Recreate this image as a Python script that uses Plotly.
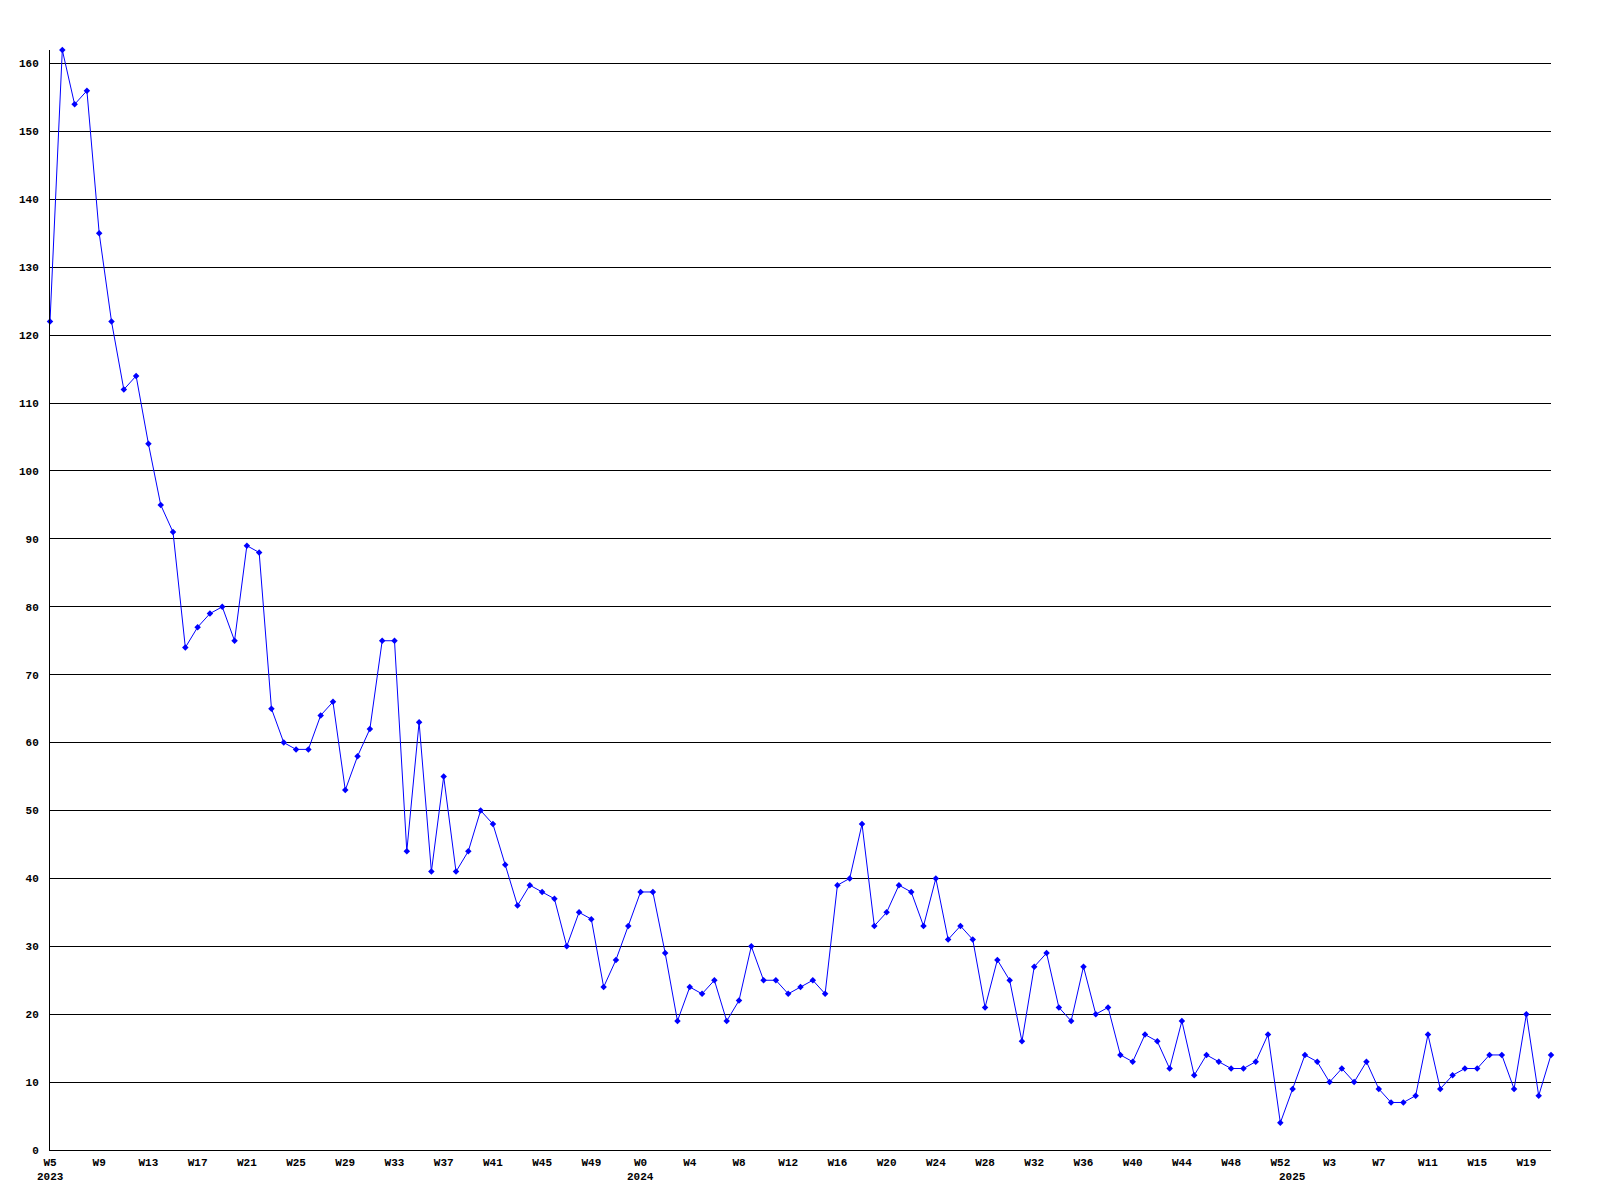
import plotly.graph_objects as go

# Weekly values (index 0 = 2023 W5 ... index 122 = 2025 W21)
values = [122, 162, 154, 156, 135, 122, 112, 114, 104, 95, 91, 74, 77, 79, 80, 75, 89, 88,
          65, 60, 59, 59, 64, 66, 53, 58, 62, 75, 75, 44, 63, 41, 55, 41, 44, 50, 48, 42,
          36, 39, 38, 37, 30, 35, 34, 24, 28, 33, 38, 38, 29, 19, 24, 23, 25, 19, 22, 30,
          25, 25, 23, 24, 25, 23, 39, 40, 48, 33, 35, 39, 38, 33, 40, 31, 33, 31, 21, 28,
          25, 16, 27, 29, 21, 19, 27, 20, 21, 14, 13, 17, 16, 12, 19, 11, 14, 13, 12, 12,
          13, 17, 4, 9, 14, 13, 10, 12, 10, 13, 9, 7, 7, 8, 17, 9, 11, 12, 12, 14, 14, 9,
          20, 8, 14]

weeks_2023 = [f"W{w}" for w in range(5, 53)]
weeks_2024 = [f"W{w}" for w in range(0, 53)]
weeks_2025 = [f"W{w}" for w in range(0, 22)]
week_labels = weeks_2023 + weeks_2024 + weeks_2025
years = ["2023", "2024", "2025"]
year_starts = [0, len(weeks_2023), len(weeks_2023) + len(weeks_2024)]

x_idx = list(range(len(values)))
tick_idx = x_idx[::4]
tick_text = [week_labels[i] for i in tick_idx]

fig = go.Figure()
fig.add_trace(go.Scatter(
    x=x_idx, y=values, mode="lines+markers",
    line=dict(color="#0000ff", width=1),
    marker=dict(symbol="diamond", size=5, color="#0000ff"),
    cliponaxis=False, hoverinfo="skip", showlegend=False,
))

font_tick = dict(family="Liberation Mono, DejaVu Sans Mono, monospace", size=11,
                 color="black", weight="bold")

for yr, st in zip(years, year_starts):
    fig.add_annotation(x=st, y=0, xref="x", yref="y", text=yr, showarrow=False,
                       yanchor="top", xanchor="center", yshift=-19, font=font_tick)

fig.update_layout(
    width=1584, height=1184,
    margin=dict(l=42, r=41, t=42, b=42),
    paper_bgcolor="white", plot_bgcolor="white",
    xaxis=dict(range=[0, len(values) - 1], tickmode="array", tickvals=tick_idx,
               ticktext=tick_text, showgrid=False, zeroline=False,
               showline=True, linecolor="black", linewidth=1, ticks="",
               tickfont=font_tick, ticklabelstandoff=2),
    yaxis=dict(range=[0, 162], dtick=10, tick0=0, showgrid=True, gridcolor="black",
               gridwidth=1, zeroline=False, showline=True, linecolor="black",
               linewidth=1, ticks="", tickfont=font_tick, ticklabelstandoff=8),
)

fig.write_html("out.html")
